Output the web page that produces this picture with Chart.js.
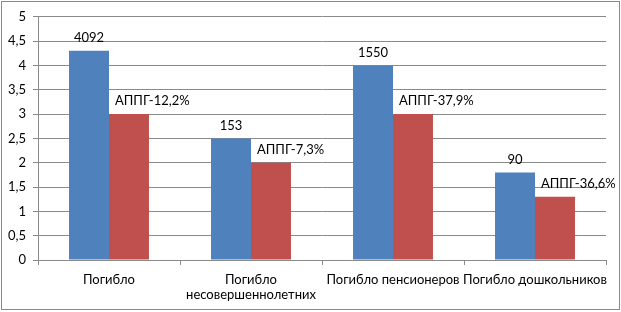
<!DOCTYPE html>
<html>
<head>
<meta charset="utf-8">
<script src="https://cdn.jsdelivr.net/npm/chart.js@4/dist/chart.umd.min.js"></script>
<style>
  html, body { margin: 0; padding: 0; background: #fff; }
  #frame {
    position: absolute; left: 1px; top: 1px;
    width: 617px; height: 307px;
    border: 1px solid #8a8a8a;
    background: #fff;
  }
  #chart { display: block; }
</style>
</head>
<body>
<div id="frame"><canvas id="chart" width="617" height="307"></canvas></div>
<script>
const categories = ['Погибло', ['Погибло', 'несовершеннолетних'], 'Погибло пенсионеров', 'Погибло дошкольников'];
const currentValues = [4.3, 2.5, 4, 1.8];
const lastYearValues = [3, 2, 3, 1.3];
const currentLabels = ['4092', '153', '1550', '90'];
const lastYearLabels = ['АППГ-12,2%', 'АППГ-7,3%', 'АППГ-37,9%', 'АППГ-36,6%'];

const FONT = 'Lato, "Open Sans", sans-serif';

const barLabels = {
  id: 'barLabels',
  afterDatasetsDraw(chart) {
    const ctx = chart.ctx;
    ctx.save();
    ctx.font = '13px ' + FONT;
    ctx.fillStyle = '#000';
    ctx.textBaseline = 'middle';
    chart.data.datasets.forEach((ds, i) => {
      chart.getDatasetMeta(i).data.forEach((bar, j) => {
        const txt = ds.valueLabels[j];
        if (i === 0) {
          ctx.textAlign = 'center';
          ctx.fillText(txt, bar.x, bar.y - 13);
        } else {
          ctx.textAlign = 'left';
          ctx.fillText(txt, bar.x - bar.width / 2 + 6, bar.y - 13);
        }
      });
    });
    ctx.restore();
  }
};

new Chart(document.getElementById('chart'), {
  type: 'bar',
  data: {
    labels: categories,
    datasets: [
      { data: currentValues, valueLabels: currentLabels, backgroundColor: '#4F81BD' },
      { data: lastYearValues, valueLabels: lastYearLabels, backgroundColor: '#C0504D' }
    ]
  },
  options: {
    responsive: false,
    animation: false,
    layout: { padding: { left: 0, right: 13, top: 13, bottom: 0 } },
    datasets: { bar: { barPercentage: 1, categoryPercentage: 0.563 } },
    plugins: { legend: { display: false }, tooltip: { enabled: false } },
    scales: {
      x: {
        afterFit(s) { s.height = 49; },
        grid: { drawOnChartArea: false, drawTicks: true, tickLength: 5, color: '#8a8a8a', offset: true },
        border: { color: '#8a8a8a' },
        ticks: {
          font: { family: FONT, size: 13, lineHeight: 1.1 },
          color: '#000', padding: 8, maxRotation: 0, autoSkip: false
        }
      },
      y: {
        min: 0, max: 5,
        afterFit(s) { s.width = 36; },
        grid: { color: '#8a8a8a', tickLength: 5 },
        border: { color: '#8a8a8a' },
        ticks: {
          stepSize: 0.5,
          font: { family: FONT, size: 13 },
          color: '#000', padding: 7,
          callback: v => String(v).replace('.', ',')
        }
      }
    }
  },
  plugins: [barLabels]
});
</script>
</body>
</html>
